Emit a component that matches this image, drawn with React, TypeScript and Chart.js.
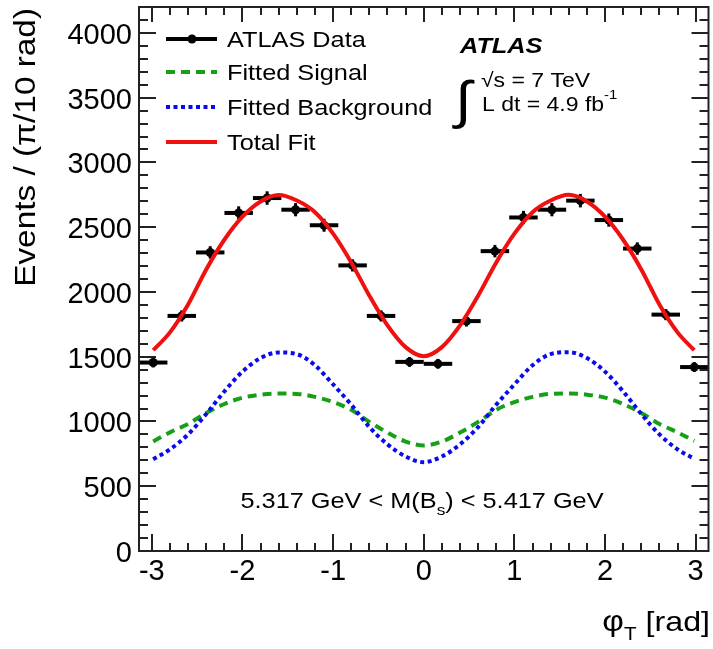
import React, { useEffect, useRef } from "react";
import { Chart, registerables } from "chart.js";

Chart.register(...registerables);

// ---- data ----
const binCenters = [
  -2.985, -2.670, -2.356, -2.042, -1.728, -1.414, -1.100, -0.785, -0.471, -0.157,
  0.157, 0.471, 0.785, 1.100, 1.414, 1.728, 2.042, 2.356, 2.670, 2.985,
];
const binHalfWidth = 0.157;
const eventCounts = [
  1455, 1815, 2305, 2610, 2725, 2635, 2515, 2205, 1815, 1460,
  1445, 1775, 2315, 2575, 2635, 2705, 2555, 2335, 1825, 1420,
];
const countErrors = [
  38, 43, 48, 51, 52, 51, 50, 47, 43, 38,
  38, 42, 48, 51, 51, 52, 51, 48, 43, 38,
];

const fitX = [
  -2.985, -2.8, -2.6, -2.4, -2.2, -2.0, -1.8, -1.6, -1.4, -1.2, -1.0, -0.8, -0.6, -0.4, -0.2,
  0,
  0.2, 0.4, 0.6, 0.8, 1.0, 1.2, 1.4, 1.6, 1.8, 2.0, 2.2, 2.4, 2.6, 2.8, 2.985,
];
const totalFit = [
  1550, 1688, 1903, 2174, 2403, 2581, 2699, 2748, 2706, 2616, 2450, 2228, 1971, 1742, 1574,
  1504,
  1574, 1742, 1971, 2228, 2450, 2616, 2706, 2750, 2699, 2581, 2403, 2174, 1903, 1688, 1550,
];
const signalFit = [
  846, 916, 981, 1065, 1135, 1184, 1207, 1216, 1213, 1190, 1150, 1090, 997, 914, 845,
  815,
  845, 914, 997, 1090, 1150, 1190, 1213, 1216, 1207, 1184, 1135, 1065, 981, 916, 850,
];
const backgroundFit = [
  708, 785, 900, 1058, 1232, 1385, 1490, 1533, 1520, 1434, 1286, 1130, 957, 823, 730,
  686,
  730, 823, 957, 1130, 1286, 1434, 1520, 1535, 1490, 1385, 1232, 1058, 900, 785, 712,
];

const xTickValues = [-3, -2, -1, 0, 1, 2, 3];
const yTickValues = [0, 500, 1000, 1500, 2000, 2500, 3000, 3500, 4000];
const xRange = [-Math.PI, Math.PI];
const yRange = [0, 4200];

const legendLabels = ["ATLAS Data", "Fitted Signal", "Fitted Background", "Total Fit"];

// ---- styles ----
const FONT = '"Liberation Sans", Arial, Helvetica, sans-serif';
const SX = 1.15;
const GREEN = "#17a017";
const BLUE = "#0a0aee";
const RED = "#f01010";

type Seg = { text: string; size: number; dy?: number; weight?: string };

function segWidth(ctx: CanvasRenderingContext2D, segs: Seg[]) {
  let w = 0;
  for (const s of segs) {
    ctx.font = `${s.weight || ""} ${s.size}px ${FONT}`;
    w += ctx.measureText(s.text).width * SX;
  }
  return w;
}

function drawSegs(
  ctx: CanvasRenderingContext2D,
  segs: Seg[],
  x: number,
  y: number,
  align: "left" | "center" | "right" = "left"
) {
  const total = segWidth(ctx, segs);
  let cx = x;
  if (align === "center") cx = x - total / 2;
  if (align === "right") cx = x - total;
  for (const s of segs) {
    ctx.save();
    ctx.font = `${s.weight || ""} ${s.size}px ${FONT}`;
    ctx.fillStyle = "#000";
    ctx.textAlign = "left";
    ctx.textBaseline = "alphabetic";
    const w = ctx.measureText(s.text).width * SX;
    ctx.translate(cx, y + (s.dy || 0));
    ctx.scale(SX, 1);
    ctx.fillText(s.text, 0, 0);
    ctx.restore();
    cx += w;
  }
}

const errorBarPlugin = {
  id: "errorBars",
  beforeDatasetsDraw(chart: any) {
    const { ctx, scales } = chart;
    const xs = scales.x;
    const ys = scales.y;
    ctx.save();
    ctx.strokeStyle = "#000";
    ctx.lineCap = "butt";
    ctx.setLineDash([]);
    for (let i = 0; i < binCenters.length; i++) {
      const c = binCenters[i];
      const v = eventCounts[i];
      const e = countErrors[i];
      const y = ys.getPixelForValue(v);
      ctx.lineWidth = 4;
      ctx.beginPath();
      ctx.moveTo(xs.getPixelForValue(c - binHalfWidth), y);
      ctx.lineTo(xs.getPixelForValue(c + binHalfWidth), y);
      ctx.stroke();
      const px = xs.getPixelForValue(c);
      ctx.lineWidth = 3;
      ctx.beginPath();
      ctx.moveTo(px, ys.getPixelForValue(v - e));
      ctx.lineTo(px, ys.getPixelForValue(v + e));
      ctx.stroke();
    }
    ctx.restore();
  },
};

const framePlugin = {
  id: "frameTicks",
  afterDraw(chart: any) {
    const { ctx, chartArea, scales } = chart;
    const { left, right, top, bottom } = chartArea;
    const xs = scales.x;
    const ys = scales.y;
    ctx.save();
    ctx.setLineDash([]);
    ctx.strokeStyle = "#222";
    ctx.lineWidth = 2;
    ctx.strokeRect(left, top, right - left, bottom - top);
    ctx.lineWidth = 2;
    ctx.beginPath();
    // x ticks (minor every 0.2, major every 1)
    for (let k = -15; k <= 15; k++) {
      const v = k * 0.2;
      const px = Math.round(xs.getPixelForValue(v));
      const major = k % 5 === 0;
      const lenB = major ? 17 : 8;
      const lenT = major ? 15 : 8;
      ctx.moveTo(px, bottom);
      ctx.lineTo(px, bottom - lenB);
      ctx.moveTo(px, top);
      ctx.lineTo(px, top + lenT);
    }
    // y ticks (minor every 100, major every 500)
    for (let k = 0; k <= 42; k++) {
      const v = k * 100;
      const py = Math.round(ys.getPixelForValue(v));
      const major = k % 5 === 0;
      const len = major ? 17 : 9;
      ctx.moveTo(left, py);
      ctx.lineTo(left + len, py);
      ctx.moveTo(right, py);
      ctx.lineTo(right - len, py);
    }
    ctx.stroke();
    ctx.restore();
  },
};

const annotationPlugin = {
  id: "annotations",
  afterDraw(chart: any) {
    const ctx: CanvasRenderingContext2D = chart.ctx;
    ctx.save();

    // ---- legend ----
    const lx0 = 166;
    const lx1 = 217;
    const rows = [39, 72, 107, 142];
    ctx.lineCap = "butt";
    ctx.strokeStyle = "#000";
    ctx.lineWidth = 4;
    ctx.beginPath();
    ctx.moveTo(lx0, rows[0]);
    ctx.lineTo(lx1, rows[0]);
    ctx.stroke();
    ctx.fillStyle = "#000";
    ctx.beginPath();
    ctx.arc(192, rows[0], 4.5, 0, Math.PI * 2);
    ctx.fill();
    ctx.strokeStyle = GREEN;
    ctx.setLineDash([9, 6]);
    ctx.beginPath();
    ctx.moveTo(lx0, rows[1]);
    ctx.lineTo(lx1, rows[1]);
    ctx.stroke();
    ctx.strokeStyle = BLUE;
    ctx.setLineDash([4, 3.5]);
    ctx.beginPath();
    ctx.moveTo(lx0, rows[2]);
    ctx.lineTo(lx1, rows[2]);
    ctx.stroke();
    ctx.setLineDash([]);
    ctx.strokeStyle = RED;
    ctx.beginPath();
    ctx.moveTo(lx0, rows[3]);
    ctx.lineTo(lx1, rows[3]);
    ctx.stroke();

    for (let i = 0; i < legendLabels.length; i++) {
      drawSegs(ctx, [{ text: legendLabels[i], size: 22 }], 227, rows[i] + 8);
    }

    // ---- ATLAS label ----
    drawSegs(ctx, [{ text: "ATLAS", size: 22, weight: "italic bold" }], 460, 53);
    drawSegs(ctx, [{ text: "√s = 7 TeV", size: 20 }], 481, 87);
    drawSegs(
      ctx,
      [
        { text: "L dt = 4.9 fb", size: 20 },
        { text: "-1", size: 13, dy: -12 },
      ],
      482,
      111
    );
    drawSegs(ctx, [{ text: "∫", size: 52 }], 455, 118);

    // ---- mass window ----
    drawSegs(
      ctx,
      [
        { text: "5.317 GeV < M(B", size: 22 },
        { text: "s", size: 15, dy: 7 },
        { text: ") < 5.417 GeV", size: 22 },
      ],
      422,
      508,
      "center"
    );

    // ---- x title ----
    drawSegs(
      ctx,
      [
        { text: "φ", size: 29 },
        { text: "T", size: 18, dy: 9 },
        { text: " [rad]", size: 28 },
      ],
      710,
      631,
      "right"
    );

    // ---- y title (stretched along the text direction) ----
    ctx.save();
    ctx.translate(35, 8);
    ctx.rotate(-Math.PI / 2);
    ctx.scale(SX, 1);
    ctx.font = `29px ${FONT}`;
    ctx.fillStyle = "#000";
    ctx.textAlign = "right";
    ctx.textBaseline = "alphabetic";
    ctx.fillText("Events / (π/10 rad)", 0, 0);
    ctx.restore();

    ctx.restore();
  },
};

export default function App() {
  const canvasRef = useRef<HTMLCanvasElement | null>(null);

  useEffect(() => {
    const canvas = canvasRef.current;
    if (!canvas) return;
    const chart = new Chart(canvas, {
      type: "scatter",
      data: {
        datasets: [
          {
            label: "Total Fit",
            data: fitX.map((x, i) => ({ x, y: totalFit[i] })),
            showLine: true,
            borderColor: RED,
            borderWidth: 4,
            pointRadius: 0,
            cubicInterpolationMode: "monotone",
            order: 0,
          },
          {
            label: "ATLAS Data",
            data: binCenters.map((x, i) => ({ x, y: eventCounts[i] })),
            showLine: false,
            pointRadius: 4.5,
            pointBorderWidth: 0,
            pointBackgroundColor: "#000",
            pointBorderColor: "#000",
            order: 1,
          },
          {
            label: "Fitted Background",
            data: fitX.map((x, i) => ({ x, y: backgroundFit[i] })),
            showLine: true,
            borderColor: BLUE,
            borderWidth: 4,
            borderDash: [4, 3.5],
            borderCapStyle: "butt",
            pointRadius: 0,
            cubicInterpolationMode: "monotone",
            order: 2,
          },
          {
            label: "Fitted Signal",
            data: fitX.map((x, i) => ({ x, y: signalFit[i] })),
            showLine: true,
            borderColor: GREEN,
            borderWidth: 4,
            borderDash: [9, 6],
            borderCapStyle: "butt",
            pointRadius: 0,
            cubicInterpolationMode: "monotone",
            order: 3,
          },
        ],
      } as any,
      options: {
        responsive: false,
        animation: false,
        devicePixelRatio: 1,
        layout: { padding: { top: 7, right: 2, left: 0, bottom: 0 } },
        plugins: {
          legend: { display: false },
          tooltip: { enabled: false },
        },
        scales: {
          x: {
            type: "linear",
            min: xRange[0],
            max: xRange[1],
            grid: { display: false, drawTicks: false },
            border: { display: false },
            ticks: {
              color: "#000",
              font: { family: FONT, size: 29 },
              padding: 4,
              maxRotation: 0,
              autoSkip: false,
              callback: (v: any) => String(v),
            },
            afterBuildTicks: (scale: any) => {
              scale.ticks = xTickValues.map((v) => ({ value: v }));
            },
            afterFit: (scale: any) => {
              scale.height = 98;
              scale.paddingLeft = 0;
              scale.paddingRight = 0;
            },
          },
          y: {
            type: "linear",
            min: yRange[0],
            max: yRange[1],
            grid: { display: false, drawTicks: false },
            border: { display: false },
            ticks: {
              color: "#000",
              font: { family: FONT, size: 29 },
              padding: 7,
              labelOffset: 3,
              autoSkip: false,
              callback: (v: any) => String(v),
            },
            afterBuildTicks: (scale: any) => {
              scale.ticks = yTickValues.map((v) => ({ value: v }));
            },
            afterFit: (scale: any) => {
              scale.width = 139;
              scale.paddingTop = 0;
              scale.paddingBottom = 0;
            },
          },
        },
      } as any,
      plugins: [errorBarPlugin, framePlugin, annotationPlugin],
    });
    return () => chart.destroy();
  }, []);

  return (
    <div style={{ position: "fixed", left: 0, top: 0, width: 713, height: 649, background: "#fff" }}>
      <canvas ref={canvasRef} width={713} height={649} style={{ display: "block" }} />
    </div>
  );
}
